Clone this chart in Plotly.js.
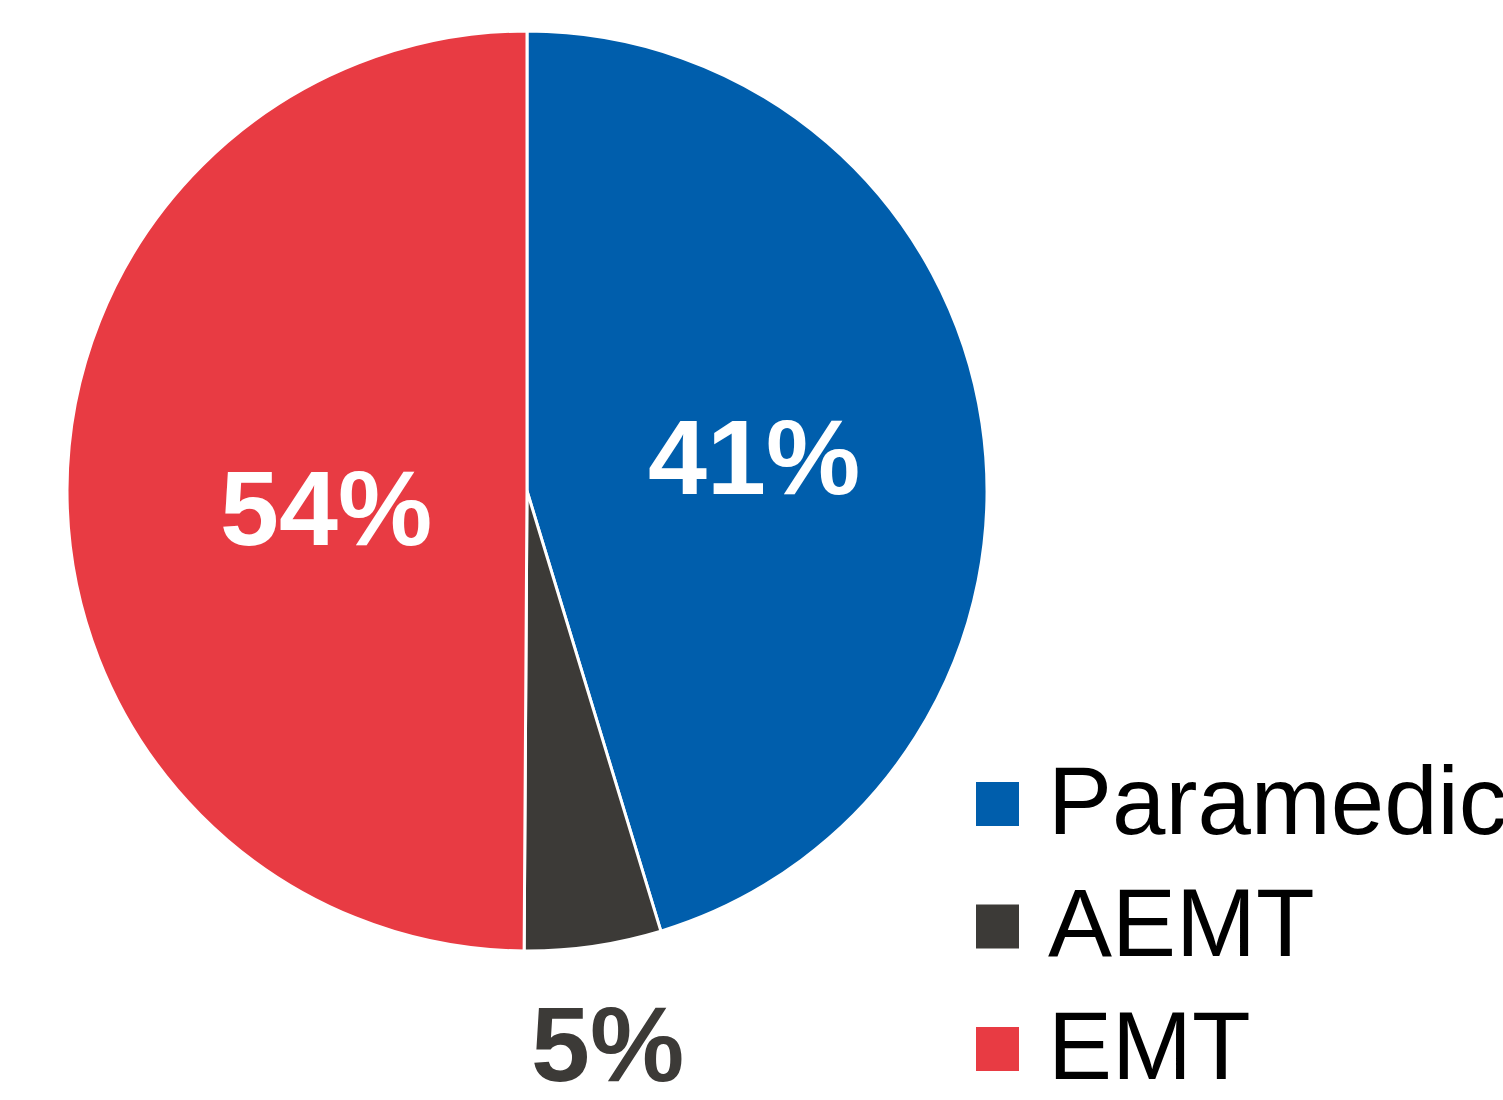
<!DOCTYPE html>
<html>
<head>
<meta charset="utf-8">
<script src="https://cdn.plot.ly/plotly-3.0.1.min.js"></script>
<style>html,body{margin:0;padding:0;background:#fff;}#chart{width:1503px;height:1100px;}</style>
</head>
<body>
<div id="chart"></div>
<script>
const categories = ["Paramedic", "AEMT", "EMT"];
const sliceValues = [45.3, 4.8, 49.9];
const labelTexts = ["41%", "5%", "54%"];
const colors = ["#005EAC", "#3C3A37", "#E83B43"];
const labelColors = ["#FFFFFF", "#3C3A37", "#FFFFFF"];

// styling of label placement (radial fraction along each slice's bisector, small vertical nudge)
const labelRadius = [0.5, 1.215, 0.437];
const labelNudge = [0, 0, 18];

const W = 1503, H = 1100;
const px = x => x / W;
const py = y => 1 - y / H;

// pie geometry in pixels
const pieLeft = 67, pieRight = 987, pieTop = 31, pieBottom = 951;
const cx = (pieLeft + pieRight) / 2, cy = (pieTop + pieBottom) / 2;
const R = Math.min(pieRight - pieLeft, pieBottom - pieTop) / 2;

const trace = {
  type: "pie",
  labels: categories,
  values: sliceValues,
  textinfo: "none",
  sort: false,
  direction: "clockwise",
  rotation: 0,
  marker: {colors: colors, line: {color: "#FFFFFF", width: 3}},
  domain: {x: [px(pieLeft), px(pieRight)], y: [py(pieBottom), py(pieTop)]},
  showlegend: false,
  hoverinfo: "label"
};

const shapes = [], annotations = [];

// slice labels placed along each slice's bisector, computed from the values
const total = sliceValues.reduce((a, b) => a + b, 0);
let cum = 0;
sliceValues.forEach((v, i) => {
  const mid = (cum + v / 2) / total * 2 * Math.PI;
  cum += v;
  const r = R * labelRadius[i];
  const lx = cx + r * Math.sin(mid);
  const ly = cy - r * Math.cos(mid) + labelNudge[i];
  annotations.push({xref: "paper", yref: "paper", x: px(lx), y: py(ly),
    xanchor: "center", yanchor: "middle", showarrow: false, text: labelTexts[i],
    font: {family: "Liberation Sans, Arial, sans-serif", size: 106, color: labelColors[i], weight: "bold"}});
});

// legend
const legendTop = 804, legendStep = 122.5, sq = 22;
categories.forEach((c, i) => {
  const ly = legendTop + i * legendStep;
  shapes.push({type: "rect", xref: "paper", yref: "paper",
    x0: px(976), x1: px(1019), y0: py(ly + sq), y1: py(ly - sq),
    fillcolor: colors[i], line: {width: 0}});
  annotations.push({xref: "paper", yref: "paper", x: px(1046), y: py(ly - 4),
    xanchor: "left", yanchor: "middle", showarrow: false, text: c,
    font: {family: "Liberation Sans, Arial, sans-serif", size: 96, color: "#000000"}});
});

const layout = {
  width: W, height: H,
  margin: {l: 0, r: 0, t: 0, b: 0},
  paper_bgcolor: "#FFFFFF",
  plot_bgcolor: "#FFFFFF",
  showlegend: false,
  shapes: shapes,
  annotations: annotations
};

Plotly.newPlot("chart", [trace], layout, {displayModeBar: false, staticPlot: true});
</script>
</body>
</html>
